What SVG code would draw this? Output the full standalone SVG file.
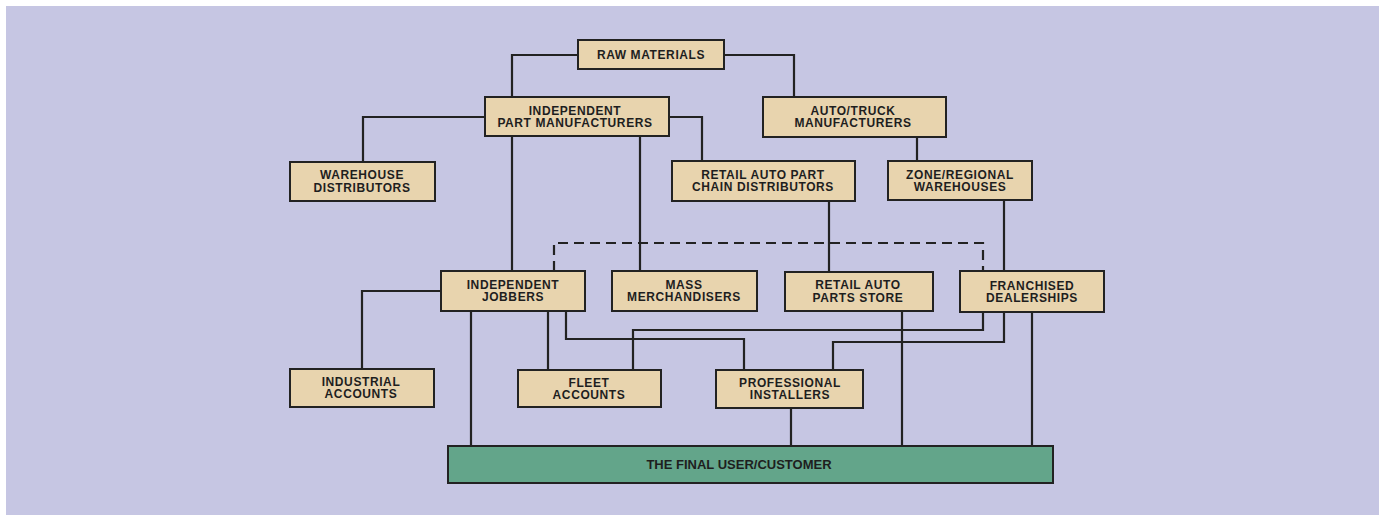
<svg xmlns="http://www.w3.org/2000/svg" width="1379" height="515" viewBox="0 0 1379 515">
<style>
.bg{fill:#c6c6e3}
.box{fill:#e8d4ae;stroke:#222;stroke-width:2}
.final{fill:#63a58a;stroke:#222;stroke-width:2}
.t{font-family:"Liberation Sans",Arial,sans-serif;font-weight:bold;font-size:12px;letter-spacing:0.6px;fill:#1e1e1e;text-anchor:middle}
.tf{font-family:"Liberation Sans",Arial,sans-serif;font-weight:bold;font-size:13px;fill:#1e1e1e;text-anchor:middle}
.c{fill:none;stroke:#222;stroke-width:2.2}
.d{fill:none;stroke:#222;stroke-width:2.2;stroke-dasharray:10 6}
</style>
<rect x="0" y="0" width="1379" height="515" fill="#ffffff"/>
<rect class="bg" x="6" y="6" width="1373" height="509"/>
<g id="connectors">
<path class="c" d="M578,55 H512 V97"/>
<path class="c" d="M724,55 H794 V97"/>
<path class="c" d="M485,117 H363 V162"/>
<path class="c" d="M669,117 H702 V161"/>
<path class="c" d="M512,136 V271"/>
<path class="c" d="M640,136 V271"/>
<path class="c" d="M917,137 V161"/>
<path class="c" d="M829,201 V272"/>
<path class="c" d="M1004,200 V271"/>
<path class="d" d="M554,271 V243 H983 V271"/>
<path class="c" d="M441,291 H362 V369"/>
<path class="c" d="M471,311 V446"/>
<path class="c" d="M548,311 V370"/>
<path class="c" d="M566,311 V339 H744 V370"/>
<path class="c" d="M983,312 V330 H633 V370"/>
<path class="c" d="M1004,312 V342 H833 V370"/>
<path class="c" d="M902,311 V446"/>
<path class="c" d="M1032,312 V446"/>
<path class="c" d="M791,408 V446"/>
</g>
<g id="raw-materials">
<rect class="box" x="578" y="40" width="146" height="29"/>
<text class="t" x="651" y="58.5">RAW MATERIALS</text>
</g>
<g id="independent-part-manufacturers">
<rect class="box" x="485" y="97" width="184" height="39"/>
<text class="t" x="575" y="114.5">INDEPENDENT</text>
<text class="t" x="575" y="126.8">PART MANUFACTURERS</text>
</g>
<g id="auto-truck-manufacturers">
<rect class="box" x="763" y="97" width="183" height="40"/>
<text class="t" x="853" y="115">AUTO/TRUCK</text>
<text class="t" x="853" y="127.3">MANUFACTURERS</text>
</g>
<g id="warehouse-distributors">
<rect class="box" x="290" y="162" width="145" height="39"/>
<text class="t" x="362" y="179.3">WAREHOUSE</text>
<text class="t" x="362" y="191.7">DISTRIBUTORS</text>
</g>
<g id="retail-auto-part-chain-distributors">
<rect class="box" x="672" y="161" width="183" height="40"/>
<text class="t" x="763" y="179">RETAIL AUTO PART</text>
<text class="t" x="763" y="191.4">CHAIN DISTRIBUTORS</text>
</g>
<g id="zone-regional-warehouses">
<rect class="box" x="888" y="161" width="144" height="39"/>
<text class="t" x="960" y="179">ZONE/REGIONAL</text>
<text class="t" x="960" y="191.4">WAREHOUSES</text>
</g>
<g id="independent-jobbers">
<rect class="box" x="441" y="271" width="144" height="40"/>
<text class="t" x="513" y="289">INDEPENDENT</text>
<text class="t" x="513" y="301.4">JOBBERS</text>
</g>
<g id="mass-merchandisers">
<rect class="box" x="612" y="271" width="145" height="40"/>
<text class="t" x="684" y="289">MASS</text>
<text class="t" x="684" y="301.4">MERCHANDISERS</text>
</g>
<g id="retail-auto-parts-store">
<rect class="box" x="785" y="272" width="148" height="39"/>
<text class="t" x="858" y="289.3">RETAIL AUTO</text>
<text class="t" x="858" y="301.7">PARTS STORE</text>
</g>
<g id="franchised-dealerships">
<rect class="box" x="960" y="271" width="144" height="41"/>
<text class="t" x="1032" y="289.5">FRANCHISED</text>
<text class="t" x="1032" y="301.9">DEALERSHIPS</text>
</g>
<g id="industrial-accounts">
<rect class="box" x="290" y="369" width="144" height="38"/>
<text class="t" x="361" y="386">INDUSTRIAL</text>
<text class="t" x="361" y="398.4">ACCOUNTS</text>
</g>
<g id="fleet-accounts">
<rect class="box" x="518" y="370" width="143" height="37"/>
<text class="t" x="589" y="386.5">FLEET</text>
<text class="t" x="589" y="398.9">ACCOUNTS</text>
</g>
<g id="professional-installers">
<rect class="box" x="716" y="370" width="147" height="38"/>
<text class="t" x="790" y="387">PROFESSIONAL</text>
<text class="t" x="790" y="399.4">INSTALLERS</text>
</g>
<g id="final-user-customer">
<rect class="final" x="448" y="446" width="605" height="37"/>
<text class="tf" x="739" y="469">THE FINAL USER/CUSTOMER</text>
</g>
</svg>
